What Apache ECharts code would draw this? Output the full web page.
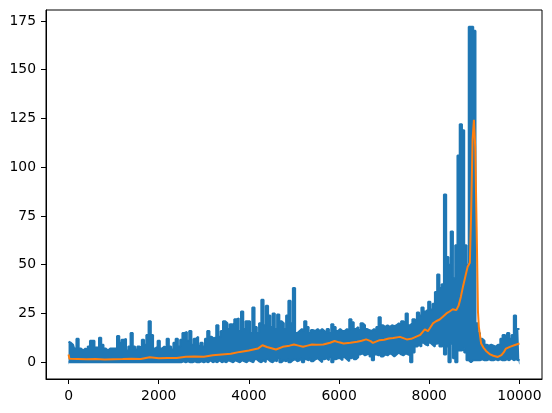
<!DOCTYPE html>
<html>
<head>
<meta charset="utf-8">
<script src="https://cdn.jsdelivr.net/npm/echarts@6/dist/echarts.min.js"></script>
<style>
  html, body { margin: 0; padding: 0; background: #fff; }
  #chart { width: 552px; height: 413px; }
</style>
</head>
<body>
<div id="chart"></div>
<script>
const STEP = 50;
const upper = [
  10.5, 10, 9, 7, 12, 7, 6, 7, 6.5, 8,
  11, 11, 7.5, 8, 12.5, 9, 7, 6, 7, 7,
  7, 7, 13.5, 10, 11.5, 12, 6, 8, 15, 8,
  6.5, 8, 7.5, 11.5, 9, 14, 21, 14, 7, 8,
  11, 7, 8, 7.5, 12, 8, 6.5, 10, 12, 8,
  11.5, 15, 15.5, 11, 16, 9, 12, 13, 8.5, 10,
  8, 12, 16, 13, 12, 13, 19, 13, 16, 21,
  20, 17, 19.5, 19, 22, 22.5, 16, 26, 17, 21,
  21, 15, 28, 18, 15, 20, 32, 19, 29, 24,
  18, 25, 17, 24.5, 21, 20, 17, 24, 31.5, 20,
  38, 15, 16, 17, 16, 21, 18, 15, 16.5, 16,
  17, 16, 17, 16, 15, 17, 15, 19.5, 18, 16,
  17, 16, 16, 17, 16, 22, 20.5, 17, 18, 16.5,
  20, 19, 17, 16.5, 16, 17, 16, 18, 23, 19,
  18, 19, 18, 19, 18.5, 19, 20, 19, 21, 20,
  25, 19, 20, 22, 21, 25.5, 24, 28, 26, 27,
  31, 27, 30, 36, 45, 38, 40, 86, 54, 50,
  67, 43, 60, 106, 122, 119, 60, 50, 172, 172,
  170, 20, 15, 12, 11, 9, 8.5, 9, 8.5, 8,
  9, 9, 12, 14, 13, 15, 12, 14, 24, 17,
  17
];
const lower = [
  0, 0, 0, 0, 0, 0, 0, 0, 0, 0,
  0, 0, 0, 0, 0, 0, 0, 0, 0, 0,
  0, 0, 0, 0, 0, 0, 0, 0, 0, 0,
  0, 0, 0, 0, 0, 0, 0, 0, 0, 0,
  0, 0, 0, 0, 0, 0, 0, 0, 0, 0,
  0, 0.5, 0, 0.5, 0, 0, 0.5, 0, 0, 0.5,
  0, 0.5, 0, 1, 0, 0.5, 0, 1, 0, 0.5,
  0, 1, 0.5, 0, 1, 0.5, 0, 1, 0.5, 0,
  1, 0.5, 0, 1.5, 0.5, 0, 1, 0, 1.5, 0.5,
  0, 1, 0.5, 2, 0, 1, 0.5, 1.5, 0, 1,
  1.5, 0.5, 1, 2, 0, 1.5, 1, 2, 0.5, 1.5,
  2, 1, 0, 1.5, 2, 1, 2.5, 0, 1.5, 2,
  2, 1, 2.5, 1.5, 0.5, 2, 3, 1.5, 2.5, 4,
  4.5, 3.5, 4, 4.5, 3, 1, 4, 3.5, 4.5, 3,
  4, 3.5, 4.5, 4, 3, 4, 5, 4, 3.5, 4.5,
  4, 3.5, 0, 5, 8, 9, 8, 10, 9, 8.5,
  10, 9, 8, 9.5, 10, 8, 9, 4, 8, 0,
  9.5, 2, 0, 6, 6, 7, 5, 1, 0, 1,
  1, 1, 1, 1.5, 1, 1, 1.5, 1, 1, 1.5,
  1, 1.5, 1, 1, 1.5, 1, 2, 1, 1.5, 1,
  1.5
];

// smoothed curve (orange)
const smoothX = [
  0, 20, 60, 200, 400, 600, 800, 1000, 1200, 1400,
  1600, 1800, 2000, 2200, 2400, 2600, 2800, 3000, 3200, 3400,
  3600, 3800, 4000, 4100, 4200, 4300, 4400, 4500, 4600, 4750,
  4900, 5000, 5100, 5200, 5300, 5400, 5500, 5650, 5800, 5900,
  6000, 6100, 6250, 6400, 6500, 6600, 6700, 6750, 6900, 7000,
  7100, 7200, 7350, 7500, 7600, 7700, 7800, 7900, 7970, 8080,
  8150, 8230, 8300, 8380, 8450, 8520, 8600, 8650, 8700, 8750,
  8800, 8850, 8900, 8930, 8960, 8990, 9020, 9050, 9080, 9100,
  9150, 9200, 9260, 9350, 9420, 9520, 9600, 9650, 9700, 9800,
  9900, 10000
];
const smoothY = [
  4, 1.8, 1.6, 1.7, 1.5, 1.6, 1.4, 1.5, 1.6, 1.8,
  1.7, 2.5, 2, 2.2, 2.2, 2.8, 3, 2.8, 3.6, 4,
  4.3, 5.3, 6, 6.5, 7, 8.7, 7.8, 7.2, 6.5, 7.9,
  8.5, 9.1, 8.5, 7.9, 8.5, 9.1, 9, 9.1, 10, 10.9,
  10.2, 9.6, 10, 10.5, 11, 11.7, 10.8, 9.9, 11.3, 11.5,
  12.2, 12.4, 13, 11.7, 12, 13, 14, 16.8, 15.9, 19.9,
  21, 21.9, 23.3, 25, 26, 27.2, 26.7, 29, 33.5, 39,
  44, 48.9, 51, 78, 114, 124.3, 110, 69.5, 26, 18,
  9.6, 7.5, 5.8, 4, 3.3, 2.7, 3.6, 5, 7, 8,
  8.8, 9.6
];

const xTicks = [0, 2000, 4000, 6000, 8000, 10000];
const yTicks = [0, 25, 50, 75, 100, 125, 150, 175];

const BLUE = "#1f77b4";
const ORANGE = "#ff7f0e";

const upperData = upper.map((v, i) => [i * STEP, v]);
const lowerData = lower.map((v, i) => [i * STEP, v]);
const smoothData = smoothX.map((x, i) => [x, smoothY[i]]);

const chart = echarts.init(document.getElementById("chart"), null, { renderer: "canvas" });

const axisText = {
  color: "#000", fontSize: 13.9, fontFamily: "DejaVu Sans",
  formatter: v => String(v)
};

chart.setOption({
  animation: false,
  grid: {
    left: 46, right: 10, top: 10, bottom: 34,
    show: true, borderColor: "#000", borderWidth: 1, backgroundColor: "transparent"
  },
  xAxis: {
    type: "value",
    min: -500,
    max: 10500,
    axisLine: { show: true, onZero: false, lineStyle: { color: "#000", width: 1 } },
    axisTick: { show: true, length: 5, lineStyle: { color: "#000" }, customValues: xTicks },
    axisLabel: { ...axisText, margin: 10, customValues: xTicks },
    splitLine: { show: false }
  },
  yAxis: {
    type: "value",
    min: -8.6,
    max: 180.6,
    axisLine: { show: true, onZero: false, lineStyle: { color: "#000", width: 1 } },
    axisTick: { show: true, length: 5, lineStyle: { color: "#000" }, customValues: yTicks },
    axisLabel: { ...axisText, margin: 10, customValues: yTicks },
    splitLine: { show: false }
  },
  series: [
    {
      // upper edge of the raw signal, filled downwards
      name: "raw",
      type: "line",
      data: upperData,
      step: "middle",
      showSymbol: false,
      lineStyle: { color: BLUE, width: 2 },
      areaStyle: { color: BLUE, opacity: 1, origin: -1 },
      z: 2
    },
    {
      // lower edge: clears the fill below it, then draws its own edge
      name: "rawLow",
      type: "line",
      data: lowerData,
      step: "middle",
      showSymbol: false,
      lineStyle: { color: BLUE, width: 2 },
      areaStyle: { color: "#fff", opacity: 1, origin: -2 },
      z: 2
    },
    {
      name: "smooth",
      type: "line",
      data: smoothData,
      showSymbol: false,
      lineStyle: { color: ORANGE, width: 2 },
      z: 3
    }
  ]
});
</script>
</body>
</html>
